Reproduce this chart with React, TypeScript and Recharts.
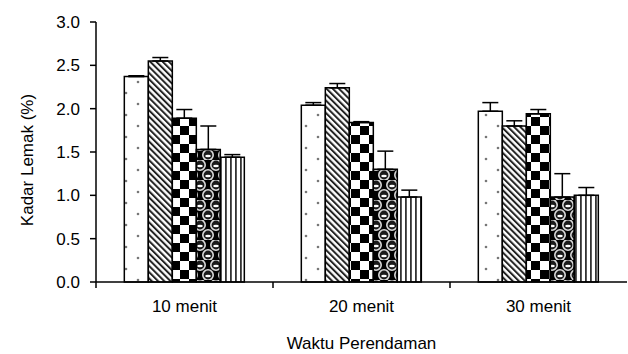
import { BarChart, Bar, XAxis, YAxis, ErrorBar } from "recharts";

const categories = ["10 menit", "20 menit", "30 menit"];
const seriesA = [2.37, 2.04, 1.97];
const seriesB = [2.55, 2.24, 1.8];
const seriesC = [1.89, 1.84, 1.94];
const seriesD = [1.53, 1.3, 0.98];
const seriesE = [1.44, 0.98, 1.0];
const errA = [0.01, 0.03, 0.1];
const errB = [0.04, 0.05, 0.06];
const errC = [0.1, 0.01, 0.05];
const errD = [0.27, 0.21, 0.27];
const errE = [0.03, 0.08, 0.09];
const yTicks = [0, 0.5, 1, 1.5, 2, 2.5, 3];

const series = [
  { key: "a", values: seriesA, errors: errA, fill: "url(#dots)" },
  { key: "b", values: seriesB, errors: errB, fill: "url(#diag)" },
  { key: "c", values: seriesC, errors: errC, fill: "url(#checker)" },
  { key: "d", values: seriesD, errors: errD, fill: "url(#spheres)" },
  { key: "e", values: seriesE, errors: errE, fill: "url(#vstripes)" },
];

const data = categories.map((name, i) => {
  const row: Record<string, any> = { name };
  series.forEach((s) => {
    row[s.key] = s.values[i];
    row[s.key + "Err"] = [0, s.errors[i]];
  });
  return row;
});

const FONT = "'Liberation Sans', Arial, sans-serif";

function CategoryTick(props: any) {
  const { x, y, payload } = props;
  const half = payload.offset ?? 88;
  return (
    <g>
      <line x1={x - half} y1={y - 8} x2={x - half} y2={y - 2} stroke="#000" strokeWidth={1.5} />
      <text x={x} y={y + 22} textAnchor="middle" fontSize={17} fontFamily={FONT} fill="#000">
        {payload.value}
      </text>
    </g>
  );
}

function YLabel(props: any) {
  const { viewBox } = props;
  const cy = viewBox.y + viewBox.height / 2 + 8;
  return (
    <text
      x={27}
      y={cy}
      transform={`rotate(-90 27 ${cy})`}
      textAnchor="middle"
      dominantBaseline="central"
      fontSize={17}
      fontFamily={FONT}
      fill="#000"
    >
      Kadar Lemak (%)
    </text>
  );
}

export default function App() {
  return (
    <div style={{ position: "absolute", left: 0, top: 0, background: "#fff" }}>
      <BarChart
        width={628}
        height={354}
        data={data}
        margin={{ top: 22, right: 1, left: 0, bottom: 0 }}
        barCategoryGap="16%"
        barGap={0}
      >
        <defs>
          <pattern id="dots" width={24} height={22} patternUnits="userSpaceOnUse">
            <rect width={24} height={22} fill="#fff" />
            <circle cx={6} cy={5} r={1.3} fill="#777" />
            <circle cx={18} cy={16} r={1.3} fill="#777" />
          </pattern>
          <pattern
            id="diag"
            width={4.4}
            height={10}
            patternUnits="userSpaceOnUse"
            patternTransform="rotate(-45)"
          >
            <rect width={4.4} height={10} fill="#fff" />
            <rect width={2} height={10} fill="#222" />
          </pattern>
          <pattern id="checker" width={18} height={18} patternUnits="userSpaceOnUse">
            <rect width={18} height={18} fill="#fff" />
            <rect x={0} y={0} width={9} height={9} fill="#000" />
            <rect x={9} y={9} width={9} height={9} fill="#000" />
          </pattern>
          <pattern id="spheres" width={16} height={20} patternUnits="userSpaceOnUse">
            <rect width={16} height={20} fill="#000" />
            <circle cx={8} cy={5} r={5.2} fill="#1a1a1a" stroke="#d8d8d8" strokeWidth={1.6} />
            <ellipse cx={8} cy={6} rx={2.8} ry={1.3} fill="#fff" />
            <circle cx={0} cy={15} r={5.2} fill="#1a1a1a" stroke="#d8d8d8" strokeWidth={1.6} />
            <circle cx={16} cy={15} r={5.2} fill="#1a1a1a" stroke="#d8d8d8" strokeWidth={1.6} />
            <ellipse cx={0} cy={16} rx={2.8} ry={1.3} fill="#fff" />
            <ellipse cx={16} cy={16} rx={2.8} ry={1.3} fill="#fff" />
          </pattern>
          <pattern id="vstripes" width={5} height={10} patternUnits="userSpaceOnUse">
            <rect width={5} height={10} fill="#fff" />
            <rect x={0} width={1.8} height={10} fill="#333" />
          </pattern>
        </defs>
        <XAxis
          dataKey="name"
          height={72}
          tickLine={false}
          tickSize={6}
          tickMargin={2}
          axisLine={{ stroke: "#000", strokeWidth: 1.5 }}
          tick={<CategoryTick />}
          interval={0}
          label={{
            value: "Waktu Perendaman",
            position: "insideBottom",
            offset: 5,
            style: { fontSize: 17, fontFamily: FONT, fill: "#000" },
          }}
        />
        <YAxis
          width={96}
          domain={[0, 3]}
          ticks={yTicks}
          interval={0}
          tickFormatter={(v: number) => v.toFixed(1)}
          tick={{ fontSize: 17, fontFamily: FONT, fill: "#000" }}
          tickSize={6}
          tickMargin={10}
          tickLine={{ stroke: "#000", strokeWidth: 1.5 }}
          axisLine={{ stroke: "#000", strokeWidth: 1.5 }}
          label={<YLabel />}
        />
        {series.map((s) => (
          <Bar
            key={s.key}
            dataKey={s.key}
            fill={s.fill}
            stroke="#000"
            strokeWidth={1.5}
            isAnimationActive={false}
          >
            <ErrorBar
              dataKey={s.key + "Err"}
              width={8}
              stroke="#000"
              strokeWidth={1.5}
            />
          </Bar>
        ))}
      </BarChart>
    </div>
  );
}
